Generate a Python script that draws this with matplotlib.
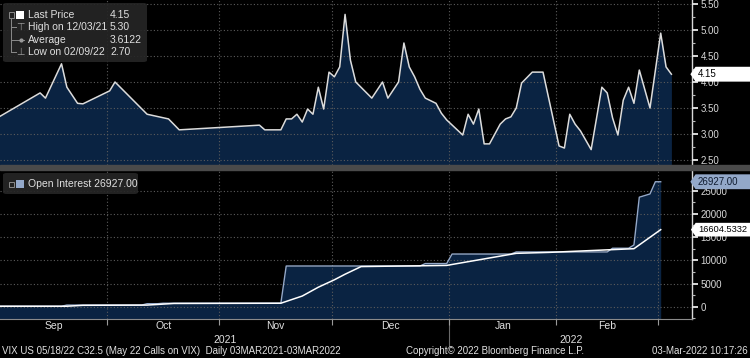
import numpy as np
import pandas as pd
import matplotlib
matplotlib.use("Agg")
import matplotlib.pyplot as plt
from matplotlib.path import Path
from matplotlib.patches import FancyBboxPatch, Rectangle
from matplotlib.lines import Line2D
from matplotlib import ticker

plt.rcParams["font.family"] = ["Liberation Sans", "DejaVu Sans"]
NARROW = ["Liberation Sans Narrow", "Liberation Sans", "DejaVu Sans"]

# trading calendar (US holidays inside the window)
holidays = ["2021-09-06", "2021-11-25", "2021-12-24", "2022-01-17", "2022-02-21"]
sessions = pd.bdate_range("2021-09-01", "2022-03-03", freq="C", holidays=holidays)

# last price, by session number (0 = 01 Sep 2021)
price_session = [0, 8, 9, 12, 13, 15, 16, 21, 22, 28, 32, 34, 49, 50, 53, 54,
                 55, 56, 57, 58, 59, 60, 61, 62, 63, 64, 65, 66, 67, 70, 72, 73,
                 75, 76, 77, 78, 79, 80, 82, 83, 84, 87, 88, 89, 90, 91, 92, 94,
                 95, 96, 97, 98, 100, 102, 105, 106, 107, 108, 109, 111, 113,
                 114, 115, 116, 117, 118, 119, 120, 122, 124, 125, 126]
price_value = [3.31, 3.79, 3.69, 4.35, 3.90, 3.59, 3.58, 3.83, 4.00, 3.38, 3.29,
               3.08, 3.17, 3.08, 3.08, 3.29, 3.29, 3.38, 3.23, 3.48, 3.38, 3.90,
               3.48, 4.19, 4.10, 4.29, 5.30, 4.42, 4.00, 3.69, 4.00, 3.69, 4.00,
               4.75, 4.29, 4.10, 3.86, 3.69, 3.59, 3.40, 3.27, 2.98, 3.38, 3.19,
               3.48, 2.81, 2.81, 3.19, 3.29, 3.33, 3.50, 3.98, 4.19, 4.19, 2.77,
               2.73, 3.38, 3.19, 3.06, 2.70, 3.90, 3.79, 3.31, 2.98, 3.65, 3.90,
               3.59, 4.23, 3.50, 4.94, 4.29, 4.15]

# open interest
oi_session = [0, 12, 13, 27, 28, 30, 31, 53, 54, 79, 80, 84, 85, 96, 97, 114,
              115, 118, 119, 120, 122, 123, 124]
oi_value = [100, 100, 350, 350, 650, 650, 750, 750, 8770, 8770, 9300, 9300,
            11350, 11350, 11800, 11800, 12600, 12600, 13300, 23600, 24300,
            26927, 26927]

# white average line in the lower panel
avg_session = [0, 13, 16, 28, 33, 53, 57, 60, 63, 65, 68, 84, 88, 97, 103,
               119, 124]
avg_value = [100, 100, 300, 350, 700, 750, 2300, 4200, 5800, 7000, 8650, 8900,
             9700, 11500, 11700, 12500, 16604.5332]

price_ticks = [2.5, 3.0, 3.5, 4.0, 4.5, 5.0, 5.5]
oi_ticks = [0, 5000, 10000, 15000, 20000, 25000]
month_labels = ["Sep", "Oct", "Nov", "Dec", "Jan", "Feb"]
year_labels = ["2021", "2022"]

legend_rows = ["Last Price", "High on 12/03/21", "Average", "Low on 02/09/22"]
legend_vals = ["4.15", "5.30", "3.6122", "2.70"]

NAVY = "#0a2342"
GRID = "#5c5c5c"
TXT = "#e0e0e0"
OI_COL = "#93a8c9"

W, H = 750, 358
fig = plt.figure(figsize=(W / 100, H / 100), dpi=100, facecolor="black")


def fx(x):
    return x / W


def fy(y):
    return 1 - y / H


ax1 = fig.add_axes([0, fy(165), fx(692), 165 / H])
ax2 = fig.add_axes([0, fy(319), fx(692), 149 / H])

# month boundaries between sessions
period = sessions.to_period("M")
starts = [i for i in range(1, len(sessions)) if period[i] != period[i - 1]]
bounds = [s - 0.5 for s in starts]
x_lo, x_hi = 0.5, 129.85

for ax in (ax1, ax2):
    ax.set_facecolor("black")
    ax.set_xlim(x_lo, x_hi)
    for s in ("top", "left"):
        ax.spines[s].set_visible(False)
    ax.spines["right"].set_color("#d8d8d8")
    ax.spines["right"].set_linewidth(1.0)
    ax.yaxis.tick_right()
    ax.tick_params(axis="y", which="major", direction="out", length=4,
                   width=1.3, colors="#e8e8e8", labelsize=7, pad=2,
                   labelcolor="#d8d8d8")
    ax.tick_params(axis="y", which="minor", direction="out", length=2,
                   width=0.8, colors="#bbbbbb")
    ax.set_xticks(bounds)
    ax.tick_params(axis="x", length=0, labelbottom=False)
    ax.set_axisbelow(False)
    ax.grid(True, which="major", color=GRID, linestyle=(0, (1, 2)),
            linewidth=0.8)

ax1.spines["bottom"].set_visible(False)
ax2.spines["bottom"].set_color("#8a8a8a")
ax2.tick_params(axis="x", length=4, width=0.8, color="#9a9a9a",
                direction="out")

# top panel
ax1.set_ylim(2.404, 5.577)
ax1.set_yticks(price_ticks)
ax1.yaxis.set_minor_locator(ticker.MultipleLocator(0.25))
ax1.yaxis.set_major_formatter(ticker.FormatStrFormatter("%.2f"))
ax1.fill_between(price_session, price_value, 0, color=NAVY, lw=0, zorder=1)
ax1.plot(price_session, price_value, color="#dcdcdc", lw=1.1, zorder=3)

# bottom panel
ax2.set_ylim(-2650, 29460)
ax2.set_yticks(oi_ticks)
ax2.yaxis.set_minor_locator(ticker.MultipleLocator(2500))
ax2.fill_between(oi_session, oi_value, -5000, color=NAVY, lw=0, zorder=1)
ax2.plot(oi_session, oi_value, color=OI_COL, lw=1.0, zorder=3)
ax2.plot(avg_session, avg_value, color="white", lw=1.1, zorder=3)


def tag_style(x0, y0, width, height, mutation_size):
    # left-pointing tag that runs on past the right edge of the figure
    pad = 0.25 * mutation_size
    x0, y0 = x0 - pad, y0 - pad
    y1 = y0 + height + 2 * pad
    x1 = x0 + width + 8 * mutation_size
    ym = (y0 + y1) / 2
    tip = (y1 - y0) * 0.35
    return Path([(x0 - tip, ym), (x0, y1), (x1, y1), (x1, y0), (x0, y0),
                 (x0 - tip, ym)], closed=True)


def value_tag(ax, value, text, face, color, size=7):
    ax.text(1 + 6 / 692, value, text,
            transform=ax.get_yaxis_transform(), ha="left", va="center",
            fontsize=size, color=color, zorder=10, clip_on=False,
            bbox=dict(boxstyle=tag_style, fc=face, ec="none"))


value_tag(ax1, price_value[-1], "4.15", "white", "black")
value_tag(ax2, oi_value[-1], "26927.00", OI_COL, "#101c30")
value_tag(ax2, avg_value[-1], "16604.5332", "white", "black", size=6.7)

# month and year labels
edges = [x_lo] + bounds + [x_hi]
xt = ax2.get_xaxis_transform()
for k, lab in enumerate(month_labels):
    ax2.text((edges[k] + edges[k + 1]) / 2, -7 / 149, lab, transform=xt,
             ha="center", va="center", fontsize=7.5, color=TXT, family=NARROW)
jan = bounds[month_labels.index("Jan") - 1]
year_edges = [x_lo, jan, x_hi]
for k, lab in enumerate(year_labels):
    ax2.text((year_edges[k] + year_edges[k + 1]) / 2, -21 / 149, lab,
             transform=xt, ha="center", va="center", fontsize=7.5, color=TXT,
             family=NARROW)
ax2.add_line(Line2D([jan, jan], [0, -27 / 149], transform=xt, color="#6a6a6a",
                    lw=0.8, clip_on=False))

# gray separator between panels
fig.patches.append(Rectangle((0, fy(170)), 1, 5 / H, transform=fig.transFigure,
                             color="#4a4a4a", zorder=2))

# top legend box
fig.patches.append(FancyBboxPatch((fx(3), fy(62)), fx(144), 59 / H,
                                  boxstyle="round,pad=0,rounding_size=0.005",
                                  transform=fig.transFigure, fc="#262626",
                                  ec="none", alpha=0.9, zorder=3))
row_y = [15, 27, 40, 52]
for lab, val, y in zip(legend_rows, legend_vals, row_y):
    fig.text(fx(28), fy(y), lab, fontsize=7.5, color=TXT, va="center", zorder=5)
    fig.text(fx(110), fy(y), val, fontsize=7.5, color=TXT, va="center", zorder=5)
fig.patches.append(Rectangle((fx(16), fy(19)), fx(8), 8 / H,
                             transform=fig.transFigure, fc="white", ec="none",
                             zorder=5))
fig.patches.append(Rectangle((fx(8.5), fy(17.5)), fx(5), 5 / H,
                             transform=fig.transFigure, fc="none", ec="#8a8a8a",
                             lw=0.7, zorder=5))
gray_lines = [([11, 11], [19, 52]), ([11, 16], [27, 27]), ([11, 16], [40, 40]),
              ([11, 16], [52, 52]), ([17, 24], [40, 40])]
for xs, ys in gray_lines:
    fig.lines.append(Line2D([fx(v) for v in xs], [fy(v) for v in ys],
                            transform=fig.transFigure, color="#8a8a8a", lw=0.7,
                            zorder=5))
fig.text(fx(20.5), fy(27), "\u22a4", fontsize=7, color="#9a9a9a", ha="center",
         va="center", family=["DejaVu Sans"], zorder=5)
fig.text(fx(20.5), fy(52), "\u22a5", fontsize=7, color="#9a9a9a", ha="center",
         va="center", family=["DejaVu Sans"], zorder=5)
fig.lines.append(Line2D([fx(20.5)], [fy(40)], transform=fig.transFigure,
                        marker="o", ms=2, color="#9a9a9a", zorder=5))

# bottom legend box
fig.patches.append(FancyBboxPatch((fx(3), fy(194)), fx(135), 21 / H,
                                  boxstyle="round,pad=0,rounding_size=0.005",
                                  transform=fig.transFigure, fc="#262626",
                                  ec="none", alpha=0.9, zorder=3))
fig.patches.append(Rectangle((fx(8.5), fy(186.5)), fx(5), 5 / H,
                             transform=fig.transFigure, fc="none", ec="#8a8a8a",
                             lw=0.7, zorder=5))
fig.patches.append(Rectangle((fx(16), fy(188)), fx(8), 8 / H,
                             transform=fig.transFigure, fc=OI_COL, ec="none",
                             zorder=5))
fig.text(fx(28), fy(184), "Open Interest 26927.00", fontsize=7.5, color=TXT,
         va="center", zorder=5)

# footer
fig.text(fx(2), fy(351), "VIX US 05/18/22 C32.5 (May 22 Calls on VIX)  "
         "Daily 03MAR2021-03MAR2022", fontsize=7, color=TXT, va="center",
         family=NARROW)
fig.text(fx(406), fy(351), "Copyright\u00a9 2022 Bloomberg Finance L.P.",
         fontsize=7, color=TXT, va="center", family=NARROW)
fig.text(fx(748), fy(351), "03-Mar-2022 10:17:26", fontsize=7, color=TXT,
         va="center", ha="right", family=NARROW)

fig.savefig("out.png", dpi=100, facecolor="black")
